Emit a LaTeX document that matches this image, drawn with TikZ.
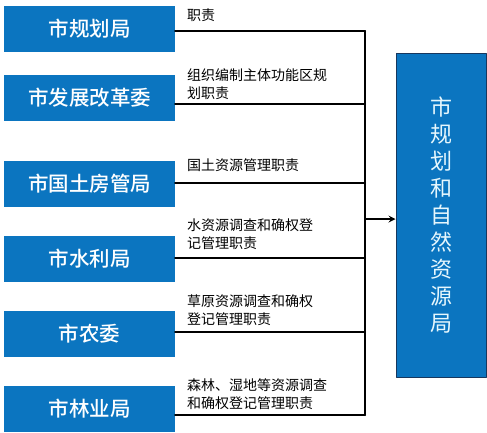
\documentclass[tikz,border=0pt]{standalone}
\usepackage{fontspec}
\newfontfamily\cjk{Noto Sans CJK SC}
\newfontfamily\cjkbf{Noto Sans CJK SC Medium}
\definecolor{bureaublue}{HTML}{0B75C0}
\definecolor{bureauedge}{HTML}{17375E}
\usetikzlibrary{arrows}

\begin{document}
\begin{tikzpicture}[line cap=round,line join=round,>=stealth,x=1pt,y=-1pt,
    oldbureau/.style={fill=bureaublue,minimum width=171pt,minimum height=46pt,inner sep=0pt,
      text=white,font=\cjkbf\fontsize{20.5pt}{22pt}\selectfont},
    duty/.style={anchor=base west,inner sep=0pt,align=left,
      font=\cjk\fontsize{14pt}{18pt}\selectfont},
    link/.style={line width=2pt}]
			\useasboundingbox (0,0) rectangle (487,432);
			% old bureaus
			\node[oldbureau] (plan)   at (89.5,29)    {市规划局};
			\node[oldbureau] (reform) at (89.5,98)    {市发展改革委};
			\node[oldbureau] (land)   at (89.5,183.5) {市国土房管局};
			\node[oldbureau] (water)  at (89.5,258.5) {市水利局};
			\node[oldbureau] (farm)   at (89.5,334)   {市农委};
			\node[oldbureau] (forest) at (89.5,409)   {市林业局};
			% new bureau
			\node[draw=bureauedge,line width=1pt,fill=bureaublue,minimum width=90pt,minimum height=324pt,
			  text=white!90!cyan,align=center,font=\cjk\fontsize{22pt}{27pt}\selectfont] (merged) at (441,215)
			  {市\\规\\划\\和\\自\\然\\资\\源\\局};
			\coordinate (trunk) at (365,0);
			% duty lines
			\draw[link] ([yshift=-2pt]plan.east) -- ([yshift=-2pt]plan.east -| trunk);
			\draw[link] ([yshift=-6pt]reform.east) -- ([yshift=-6pt]reform.east -| trunk);
			\draw[link] ([yshift=1pt]land.east) -- ([yshift=1pt]land.east -| trunk);
			\draw[link] ([yshift=1pt]water.east) -- ([yshift=1pt]water.east -| trunk);
			\draw[link] ([yshift=2pt]farm.east) -- ([yshift=2pt]farm.east -| trunk);
			\draw[link] ([yshift=-6pt]forest.east) -- ([yshift=-6pt]forest.east -| trunk);
			\draw[link] ([yshift=-2pt]plan.east -| trunk) -- ([yshift=-6pt]forest.east -| trunk);
			\draw[link,->] ([yshift=-4pt]merged.west -| trunk) -- ([yshift=-4pt]merged.west);
			% duty texts (base = last line)
			\node[duty] (d1) at (187,20)  {职责};
			\node[duty] (d2) at (187,98)  {组织编制主体功能区规\\划职责};
			\node[duty] (d3) at (187,170) {国土资源管理职责};
			\node[duty] (d4) at (187,248) {水资源调查和确权登\\记管理职责};
			\node[duty] (d5) at (187,324) {草原资源调查和确权\\登记管理职责};
			\node[duty] (d6) at (187,408) {森林、湿地等资源调查\\和确权登记管理职责};
\end{tikzpicture}
\end{document}
